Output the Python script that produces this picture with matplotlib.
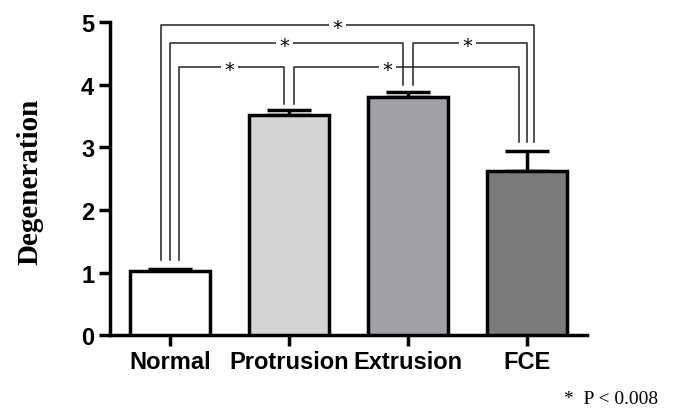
import matplotlib
matplotlib.use("Agg")
import matplotlib.pyplot as plt

groups = ["Normal", "Protrusion", "Extrusion", "FCE"]
means = [1.03, 3.51, 3.80, 2.63]
errs = [0.03, 0.08, 0.08, 0.31]
colors = ["#ffffff", "#d4d4d4", "#a2a2a6", "#7b7b7b"]

# significance brackets: (group a, offset a, group b, offset b, height, bottom a, bottom b, star x)
brackets = [
    (0, -0.07, 3, 0.06, 4.95, 1.2, 3.09, 1.41),
    (0, 0.0, 2, -0.04, 4.66, 1.2, 4.0, 0.96),
    (0, 0.08, 1, -0.04, 4.28, 1.2, 3.7, 0.50),
    (2, 0.04, 3, 0.0, 4.66, 4.0, 3.09, 2.50),
    (1, 0.04, 3, -0.07, 4.28, 3.7, 3.09, 1.83),
]

fig = plt.figure(figsize=(6.76, 4.14), dpi=100)
ax = fig.add_axes([0.163, 0.188, 0.705, 0.756])

x = range(len(groups))
ax.bar(x, means, width=0.67, color=colors, edgecolor="black", linewidth=2.5, zorder=3)
ax.errorbar(x, means, yerr=[[0] * 4, errs], fmt="none", ecolor="black",
            elinewidth=2.5, capsize=16, capthick=2.5, zorder=2)

for a, oa, b, ob, h, ya, yb, sx in brackets:
    xa = a + oa
    xb = b + ob
    ax.plot([xa, xa, xb, xb], [ya, h, h, yb], color="#222222", lw=1.1,
            zorder=1, clip_on=False)
    ax.text(sx, h - 0.03, "*", ha="center", va="center", fontsize=14,
            bbox=dict(facecolor="white", edgecolor="none", pad=2.5), zorder=4)

ax.set_xlim(-0.5, 3.5)
ax.set_ylim(0, 5)
ax.set_yticks([0, 1, 2, 3, 4, 5])
ax.set_xticks(list(x))
ax.set_xticklabels(groups)
for s in ["top", "right"]:
    ax.spines[s].set_visible(False)
for s in ["left", "bottom"]:
    ax.spines[s].set_linewidth(2.5)
ax.tick_params(axis="both", width=2.5, length=8, direction="out")
ax.tick_params(axis="x", pad=3)
for lab in ax.get_yticklabels():
    lab.set_fontfamily("Liberation Sans")
    lab.set_fontweight("bold")
    lab.set_fontsize(17)
for lab in ax.get_xticklabels():
    lab.set_fontfamily("Liberation Sans")
    lab.set_fontweight("bold")
    lab.set_fontsize(17)

fig.text(0.044, 0.56, "Degeneration", rotation=90, ha="center", va="center",
         fontsize=21, fontweight="bold", family="Liberation Serif")
fig.text(0.904, 0.035, "*  P < 0.008", ha="center", va="center",
         fontsize=14, family="Liberation Serif")

fig.savefig("out.png", dpi=100)
